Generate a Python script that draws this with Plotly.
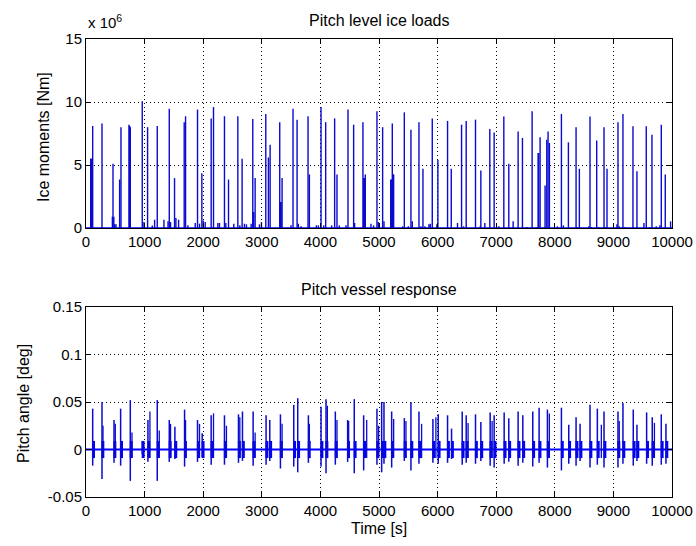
import plotly.graph_objects as go

# ---------------- data ----------------
# Top panel: ice load spikes, time [s] and moment [x 1e6 Nm]
load_t = [80, 90, 100, 114, 273, 450, 461, 475, 490, 512, 574, 597, 733, 745, 756,
          960, 989, 1051, 1131, 1171, 1216, 1330, 1400, 1421, 1443, 1511, 1534, 1580,
          1676, 1699, 1739, 1864, 1903, 1937, 1977, 2000, 2034, 2136, 2176, 2250, 2278,
          2363, 2386, 2432, 2522, 2591, 2625, 2664, 2704, 2738, 2818, 2846, 2852, 2863,
          2886, 2960, 2994, 3068, 3113, 3142, 3306, 3318, 3330, 3346, 3499, 3533, 3602,
          3624, 3670, 3789, 3812, 3931, 3965, 4011, 4056, 4090, 4192, 4243, 4283, 4323,
          4437, 4471, 4567, 4584, 4726, 4740, 4755, 4766, 4863, 4908, 4965, 4988,
          5062, 5085, 5200, 5215, 5227, 5240, 5250, 5403, 5432, 5500, 5545, 5568,
          5682, 5716, 5750, 5784, 5852, 5875, 5909, 5988, 6005, 6170, 6233, 6340, 6409,
          6443, 6488, 6647, 6727, 6738, 6806, 6891, 6965, 7045, 7130, 7215, 7289, 7374,
          7448, 7522, 7613, 7681, 7715, 7726, 7749, 7834, 7863, 7885, 7908, 8044, 8113,
          8147, 8232, 8363, 8385, 8419, 8578, 8601, 8624, 8715, 8749, 8840, 8862, 8891,
          9061, 9078, 9101, 9163, 9192, 9334, 9402, 9521, 9561, 9618, 9658, 9731, 9794,
          9817, 9885, 9976]
load_v = [5.5, 5.5, 5.5, 8.1, 8.3, 0.9, 5.1, 0.9, 0.3, 0.3, 3.85, 8.0, 8.2, 8.1, 8.0,
          10.05, 0.47, 8.0, 0.2, 0.66, 8.1, 0.66, 0.53, 9.47, 0.47, 3.96, 0.79, 0.66,
          8.4, 8.87, 0.21, 0.4, 9.4, 0.34, 4.35, 0.6, 0.47, 8.7, 9.6, 0.4, 0.4,
          8.87, 0.4, 3.85, 0.34, 8.87, 0.21, 5.5, 0.34, 0.29, 0.34, 8.65, 1.27, 1.27,
          3.96, 0.29, 0.47, 9.05, 5.6, 6.6, 8.4, 2.06, 2.06, 3.96, 0.21, 9.47, 8.6,
          0.34, 0.13, 8.87, 4.25, 0.21, 0.21, 9.6, 0.21, 8.4, 0.21, 8.7, 4.25, 0.21,
          0.21, 9.4, 8.2, 0.4, 8.4, 3.96, 3.96, 4.25, 0.34, 0.21, 9.26, 0.47,
          8.0, 0.53, 3.85, 3.85, 8.3, 4.25, 4.25, 0.13, 9.18, 0.13, 7.8, 0.53,
          8.4, 0.13, 4.7, 0.13, 0.29, 0.34, 8.7, 0.29, 5.4, 8.5, 4.7, 0.4, 8.2,
          0.13, 8.5, 8.6, 0.13, 4.56, 0.4, 7.86, 7.57, 0.13, 8.84, 5.1, 0.53, 7.65,
          7.15, 0.08, 9.26, 0.08, 5.96, 5.96, 7.2, 3.38, 7.0, 7.65, 6.75, 0.13, 9.05,
          0.21, 6.8, 8.0, 0.08, 4.7, 0.13, 8.84, 0.08, 6.94, 0.08, 8.0, 0.08, 4.7,
          0.29, 8.4, 0.13, 9.05, 0.08, 8.07, 4.5, 0.4, 8.07, 0.08, 7.4, 0.13, 0.21,
          8.2, 4.25, 0.53]

# Bottom panel: pitch response bursts, time [s], max / min pitch [deg]
resp_t = [114, 273, 478, 591, 756, 960, 1057, 1216, 1421, 1517, 1682, 1903, 1983,
          2136, 2363, 2602, 2670, 2852, 3073, 3136, 3318, 3545, 3613, 3795, 4011,
          4096, 4255, 4465, 4578, 4738, 4965, 5045, 5085, 5216, 5432, 5545, 5682,
          5920, 6011, 6170, 6238, 6420, 6488, 6647, 6738, 6897, 6965, 7136, 7215,
          7374, 7454, 7624, 7732, 7874, 8113, 8238, 8363, 8431, 8601, 8726, 8840,
          9078, 9163, 9339, 9402, 9567, 9663, 9817, 9897]
resp_max = [0.043, 0.050, 0.031, 0.043, 0.052, 0.009, 0.031, 0.052, 0.031, 0.024,
            0.042, 0.031, 0.017, 0.036, 0.036, 0.037, 0.040, 0.040, 0.036, 0.031,
            0.037, 0.047, 0.054, 0.036, 0.045, 0.053, 0.040, 0.031, 0.053, 0.036,
            0.043, 0.050, 0.050, 0.040, 0.033, 0.050, 0.040, 0.032, 0.037, 0.036,
            0.022, 0.040, 0.036, 0.037, 0.029, 0.039, 0.036, 0.039, 0.033, 0.040,
            0.036, 0.040, 0.044, 0.042, 0.044, 0.026, 0.034, 0.027, 0.047, 0.043,
            0.040, 0.040, 0.049, 0.042, 0.026, 0.039, 0.034, 0.037, 0.027]
resp_min = [-0.017, -0.031, -0.014, -0.017, -0.033, -0.005, -0.013, -0.033, -0.013,
            -0.010, -0.018, -0.013, -0.008, -0.016, -0.016, -0.014, -0.012, -0.017,
            -0.016, -0.012, -0.020, -0.018, -0.024, -0.014, -0.018, -0.025, -0.016,
            -0.013, -0.025, -0.022, -0.016, -0.024, -0.015, -0.019, -0.012, -0.022,
            -0.015, -0.014, -0.015, -0.014, -0.010, -0.016, -0.014, -0.015, -0.012,
            -0.017, -0.019, -0.015, -0.013, -0.017, -0.014, -0.018, -0.014, -0.019,
            -0.022, -0.015, -0.017, -0.012, -0.019, -0.016, -0.019, -0.019, -0.015,
            -0.017, -0.012, -0.015, -0.017, -0.016, -0.015]
# secondary peaks inside the bursts
resp2_t = [290, 500, 785, 1091, 1250, 1443, 1699, 1937, 2176, 2397, 2625, 2886,
           3346, 3812, 4119, 4283, 4482, 4790, 4993, 5250, 5460, 5727, 5971, 6520,
           6930, 7907, 8794, 9100, 9700]
resp2_v = [0.025, 0.027, 0.018, 0.040, 0.020, 0.027, 0.031, 0.027, 0.038, 0.025,
           0.034, 0.018, 0.027, 0.027, 0.046, 0.031, 0.030, 0.031, 0.025, 0.032,
           0.030, 0.027, 0.034, 0.028, 0.030, 0.038, 0.026, 0.030, 0.028]
RING_AMP = 0.009   # amplitude of the ringing after each burst [deg]

x_ticks = list(range(0, 10001, 1000))
x_tick_text = [str(v) for v in x_ticks]
load_ticks = [0, 5, 10, 15]
resp_ticks = [-0.05, 0, 0.05, 0.1, 0.15]
resp_tick_text = ["-0.05", "0", "0.05", "0.1", "0.15"]

# ---------------- styling ----------------
W, H = 696, 546
BLUE = "#0a0ad0"
BRIGHT = "#0000ff"
TXT = "Liberation Sans, Arial, sans-serif"
TICKF = "Liberation Sans, Arial, sans-serif"


def segs(ts, tops, bots):
    xs, ys = [], []
    for t, a, b in zip(ts, tops, bots):
        xs += [t, t, None]
        ys += [b, a, None]
    return xs, ys


fig = go.Figure()

# top panel
lx, ly = segs(load_t, load_v, [0] * len(load_t))
fig.add_trace(go.Scatter(x=[0, 10000], y=[0, 0], mode="lines",
                         line=dict(color=BRIGHT, width=1.5), xaxis="x", yaxis="y",
                         hoverinfo="skip"))
fig.add_trace(go.Scatter(x=lx, y=ly, mode="lines", line=dict(color=BLUE, width=1.4),
                         xaxis="x", yaxis="y"))

# bottom panel
fig.add_trace(go.Bar(x=[t + 15 for t in resp_t], y=[2 * RING_AMP] * len(resp_t),
                     base=[-RING_AMP] * len(resp_t), width=[50] * len(resp_t),
                     marker=dict(color=BRIGHT, line=dict(width=0)),
                     xaxis="x2", yaxis="y2", hoverinfo="skip"))
fig.add_trace(go.Scatter(x=[0, 10000], y=[0, 0], mode="lines",
                         line=dict(color=BRIGHT, width=2.2), xaxis="x2", yaxis="y2",
                         hoverinfo="skip"))
rx, ry = segs(resp_t, resp_max, resp_min)
fig.add_trace(go.Scatter(x=rx, y=ry, mode="lines", line=dict(color=BLUE, width=1.5),
                         xaxis="x2", yaxis="y2"))
r2x, r2y = segs(resp2_t, resp2_v, [-RING_AMP] * len(resp2_t))
fig.add_trace(go.Scatter(x=r2x, y=r2y, mode="lines", line=dict(color=BLUE, width=1.3),
                         xaxis="x2", yaxis="y2"))

xdom = [86 / W, 672 / W]
axis_common = dict(showline=True, linecolor="black", linewidth=1, mirror="ticks",
                   ticks="inside", ticklen=5, tickcolor="black", tickwidth=1,
                   showgrid=True, gridcolor="black", gridwidth=1, griddash="1px,3px",
                   zeroline=False, automargin=False,
                   tickfont=dict(family=TICKF, size=15, color="black"))

fig.update_layout(
    width=W, height=H, margin=dict(l=0, r=0, t=0, b=0, autoexpand=False),
    paper_bgcolor="white", plot_bgcolor="white", showlegend=False,
    barmode="overlay",
    xaxis=dict(domain=xdom, anchor="y", range=[0, 10000], tickvals=x_ticks,
               ticktext=x_tick_text, **axis_common),
    yaxis=dict(domain=[1 - 228 / H, 1 - 39 / H], anchor="x", range=[0, 15],
               tickvals=load_ticks, ticktext=[str(v) for v in load_ticks],
               **axis_common),
    xaxis2=dict(domain=xdom, anchor="y2", range=[0, 10000], tickvals=x_ticks,
                ticktext=x_tick_text, **axis_common),
    yaxis2=dict(domain=[1 - 497 / H, 1 - 307 / H], anchor="x2", range=[-0.05, 0.15],
                tickvals=resp_ticks, ticktext=resp_tick_text, **axis_common),
)

tf = dict(family=TXT, size=16, color="black")
ann = [
    dict(text="Pitch level ice loads", x=379 / W, y=1 - 21 / H, xanchor="center",
         yanchor="middle", font=tf),
    dict(text="Pitch vessel response", x=379 / W, y=1 - 289 / H, xanchor="center",
         yanchor="middle", font=tf),
    dict(text="Ice moments [Nm]", x=43 / W, y=1 - 137 / H, xanchor="center",
         yanchor="middle", textangle=-90, font=tf),
    dict(text="Pitch angle [deg]", x=23 / W, y=1 - 404 / H, xanchor="center",
         yanchor="middle", textangle=-90, font=tf),
    dict(text="Time [s]", x=379 / W, y=1 - 528 / H, xanchor="center",
         yanchor="middle", font=tf),
    dict(text="x 10<sup>6</sup>", x=86 / W, y=1 - 33 / H, xanchor="left",
         yanchor="bottom", font=dict(family=TXT, size=15, color="black")),
]
for a in ann:
    a.update(xref="paper", yref="paper", showarrow=False)
fig.update_layout(annotations=ann)

fig.write_html("out.html")
